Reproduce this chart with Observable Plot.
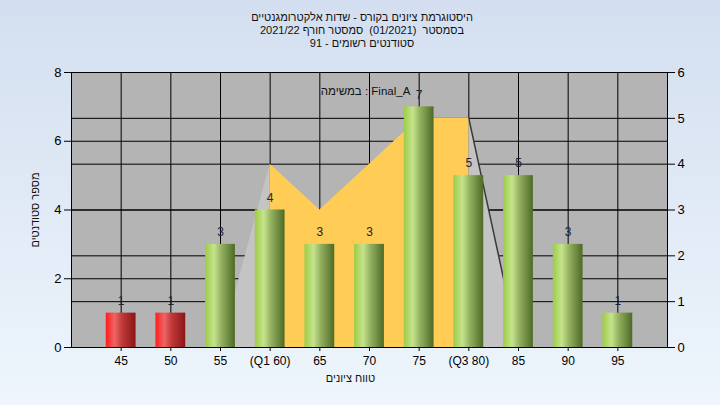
<!DOCTYPE html>
<html><head><meta charset="utf-8">
<script src="https://cdn.jsdelivr.net/npm/d3@7"></script>
<script src="https://cdn.jsdelivr.net/npm/@observablehq/plot@0.6"></script>
<style>
html,body{margin:0;padding:0;}
body{width:720px;height:405px;overflow:hidden;background:linear-gradient(to bottom,#d3dff0,#eef5fc);font-family:"Liberation Sans",Arial,"DejaVu Sans",sans-serif;}
#title{height:56px;box-sizing:border-box;padding-top:11px;padding-left:4px;text-align:center;font-size:11px;line-height:13px;color:#111;white-space:pre;}
#chart{height:349px;}
</style></head><body>
<div id="title" dir="rtl"></div><div id="chart"></div>
<script>
// ---- data ----
const grades = [45, 50, 55, 60, 65, 70, 75, 80, 85, 90, 95];
const counts = [1, 1, 3, 4, 3, 3, 7, 5, 5, 3, 1];
const failing = [true, true, false, false, false, false, false, false, false, false, false];
const gradeLabels = ["45", "50", "55", "(Q1 60)", "65", "70", "75", "(Q3 80)", "85", "90", "95"];
const curveGrades = [60, 65, 70, 75, 80];
const curveValues = [4, 3, 4, 5, 5];          // right axis
const tailLeftGrades = [55, 60];
const tailLeftValues = [0, 4];                // right axis
const tailRightGrades = [80, 85];
const tailRightValues = [5, 0];               // right axis
const leftTicks = [0, 2, 4, 6, 8];
const rightTicks = [0, 1, 2, 3, 4, 5, 6];
const titleLines = [
  "היסטוגרמת ציונים בקורס - שדות אלקטרומגנטיים",
  "בסמסטר  (01/2021)  סמסטר חורף 2021/22",
  "סטודנטים רשומים - 91"
];
const taskLabel = "במשימה : Final_A";
const yLabel = "מספר סטודנטים";
const xLabel = "טווח ציונים";

// ---- helpers ----
const leftMax = leftTicks[leftTicks.length - 1];
const rightMax = rightTicks[rightTicks.length - 1];
const toLeft = v => v * leftMax / rightMax;

document.getElementById("title").textContent = titleLines.join("\n");

const bars = grades.map((g, i) => ({g, c: counts[i], fail: failing[i]}));
const curve = curveGrades.map((g, i) => ({g, v: toLeft(curveValues[i])}));
const tailL = tailLeftGrades.map((g, i) => ({g, v: toLeft(tailLeftValues[i])}));
const tailR = tailRightGrades.map((g, i) => ({g, v: toLeft(tailRightValues[i])}));
const font = '"Liberation Sans", Arial, "DejaVu Sans", sans-serif';

const chart = Plot.plot({
  width: 720, height: 349,
  marginLeft: 71, marginRight: 53, marginTop: 16, marginBottom: 58,
  style: {background: "transparent", fontFamily: font, fontSize: "12px", color: "#000"},
  x: {domain: [40, 100]},
  y: {domain: [0, leftMax]},
  marks: [
    Plot.frame({fill: "#b4b4b4"}),
    Plot.gridY(leftTicks, {stroke: "#000", strokeOpacity: 1}),
    Plot.gridY(rightTicks.map(toLeft), {stroke: "#000", strokeOpacity: 1}),
    Plot.gridX(grades, {stroke: "#000", strokeOpacity: 1}),
    Plot.areaY(tailL, {x: "g", y: "v", fill: "#c4c4c4"}),
    Plot.areaY(tailR, {x: "g", y: "v", fill: "#c4c4c4"}),
    Plot.line(tailR, {x: "g", y: "v", stroke: "#3a3a3a", strokeWidth: 1.5}),
    Plot.areaY(curve, {x: "g", y: "v", fill: "#ffcc55"}),
    Plot.rectY(bars.filter(d => d.fail), {x1: d => d.g - 1.5, x2: d => d.g + 1.5, y: "c", fill: "url(#gRed)", ariaLabel: "bars"}),
    Plot.rectY(bars.filter(d => !d.fail), {x1: d => d.g - 1.5, x2: d => d.g + 1.5, y: "c", fill: "url(#gGreen)", ariaLabel: "bars"}),
    Plot.text(bars, {x: "g", y: "c", text: d => String(d.c), dy: -12, fill: "#1e2236", fontSize: 12}),
    Plot.text([taskLabel], {frameAnchor: "top", textAnchor: "middle", dy: 14, dx: -4, fill: "#111", fontSize: 11.5}),
    Plot.frame({stroke: "#000"}),
    Plot.axisY(leftTicks, {anchor: "left", tickSize: 7, tickPadding: 3, fontSize: 13, label: null, stroke: "#000"}),
    Plot.axisY(rightTicks.map(toLeft), {anchor: "right", tickSize: 7, tickPadding: 3, fontSize: 13, label: null,
      tickFormat: d => String(Math.round(d * rightMax / leftMax)), stroke: "#000"}),
    Plot.axisX(grades, {anchor: "bottom", tickSize: 4, tickPadding: 5, fontSize: 12, label: null,
      tickFormat: d => gradeLabels[grades.indexOf(d)], stroke: "#000"}),
    Plot.text([yLabel], {frameAnchor: "left", textAnchor: "middle", dx: -36, rotate: -90, fill: "#111", fontSize: 11}),
    Plot.text([xLabel], {frameAnchor: "bottom", textAnchor: "middle", dy: 34, dx: -19, fill: "#111", fontSize: 11})
  ]
});

// gradients & shadows
const svg = d3.select(chart);
const defs = svg.insert("defs", ":first-child");
const gg = defs.append("linearGradient").attr("id", "gGreen").attr("x1", 0).attr("x2", 1).attr("y1", 0).attr("y2", 0);
[[0, "#9ccc48"], [0.3, "#c6e38c"], [0.55, "#93b060"], [1, "#4d6a26"]].forEach(([o, c]) => gg.append("stop").attr("offset", o).attr("stop-color", c));
const gr = defs.append("linearGradient").attr("id", "gRed").attr("x1", 0).attr("x2", 1).attr("y1", 0).attr("y2", 0);
[[0, "#ff1c1c"], [0.3, "#ee6464"], [0.55, "#c03838"], [1, "#8a1616"]].forEach(([o, c]) => gr.append("stop").attr("offset", o).attr("stop-color", c));
svg.selectAll('g[aria-label="bars"]').style("filter", "drop-shadow(5px 2px 2px rgba(0,0,0,0.6))");

document.getElementById("chart").appendChild(chart);
</script>
</body></html>
